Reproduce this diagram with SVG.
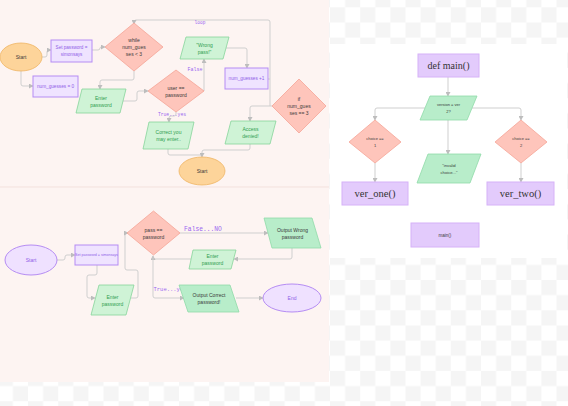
<svg xmlns="http://www.w3.org/2000/svg" width="568" height="406" viewBox="0 0 568 406">
<style>
.t{font-family:"Liberation Sans",Arial,sans-serif;text-anchor:middle;dominant-baseline:central}
.dark{fill:#3a3a3a}
.pur{fill:#8f5ee8}
.grn{fill:#2f9e50}
.lbl{font-family:"Liberation Mono","DejaVu Sans Mono",monospace;fill:#9a66f0;text-anchor:middle;dominant-baseline:central}
.serif{font-family:"Liberation Serif","Times New Roman",serif;text-anchor:middle;dominant-baseline:central;fill:#333}
.rectP{fill:#efe3ff;stroke:#b58cf3;stroke-width:1}
.rectP2{fill:#e3cbfc;stroke:#d6b2f8;stroke-width:1}
.dia{fill:#fec5bb;stroke:#f5a597;stroke-width:0.8}
.para{fill:#cff3d6;stroke:#86d49b;stroke-width:0.8}
.para2{fill:#b8edca;stroke:#8fdaa8;stroke-width:0.8}
.ellO{fill:#fdd49a;stroke:#efb565;stroke-width:0.8}
.ellP{fill:#efe1ff;stroke:#b58cf3;stroke-width:1}
.c{fill:none;stroke:#cfcfcf;stroke-width:1}
.ca{fill:none;stroke:#cfcfcf;stroke-width:1;marker-end:url(#ah)}
</style>
<defs>
<marker id="ah" markerWidth="5" markerHeight="5" refX="4" refY="2.5" orient="auto" markerUnits="userSpaceOnUse">
<path d="M0,0 L4.5,2.5 L0,5 z" fill="#bdbdbd"/>
</marker>
<pattern id="chk" x="330" y="7.3" width="30.2" height="30.3" patternUnits="userSpaceOnUse">
<rect width="30.2" height="30.3" fill="#ffffff"/>
<rect width="15.1" height="15.15" fill="#f5f5f5"/>
<rect x="15.1" y="15.15" width="15.1" height="15.15" fill="#f5f5f5"/>
</pattern>
</defs>
<rect width="568" height="406" fill="url(#chk)"/>
<rect x="0" y="0" width="329" height="382" fill="#fdf4f2"/>
<line x1="0" y1="187" x2="329" y2="187" stroke="#f3e1dd" stroke-width="1"/>
<rect x="330" y="44" width="237" height="214" fill="#ffffff"/>

<g id="connectors">
<path class="ca" d="M42,57 H45 Q47,57 47,55 V52 Q47,50 49,50 H51"/>
<path class="ca" d="M92,50 H98 Q100,50 100,48 Q100,47 102,47 H105"/>
<path class="ca" d="M21,71 V84 Q21,86 23,86 H33"/>
<path class="ca" d="M134,71 V78 Q134,80 132,80 H102 Q100,80 100,82 V89"/>
<path class="ca" d="M123,101 H135 Q137,101 137,99 V93 Q137,91 139,91 H148"/>
<path class="ca" d="M204,91 V59"/>
<path class="ca" d="M226,48 H245 Q247,48 247,50 V68"/>
<path class="c" d="M268,79 H270"/>
<path class="ca" d="M272,106 H270 V22 Q270,20 268,20 H136 Q134,20 134,22 V24"/>
<path class="ca" d="M270,106 H252 Q250,106 250,108 V121"/>
<path class="ca" d="M176,112 V114 Q176,116 174,116 H171 Q169,116 169,118 V122"/>
<path class="c" d="M168,149 V153 Q168,155 170,155 H202"/>
<path class="ca" d="M250,144 V148 Q250,150 248,150 H204 Q202,150 202,152 V157"/>

<path class="ca" d="M57,260 H63 Q65,260 65,258 V257 Q65,255 67,255 H75"/>
<path class="ca" d="M97,265 V273 Q97,275 95,275 H89 Q87,275 87,277 V296 Q87,298 89,298 H95"/>
<path class="ca" d="M131,298 H136 Q138,298 138,296 V272 Q138,270 136,270 H127 Q125,270 125,268 V235 Q125,233 127,233 H128"/>
<path class="ca" d="M180,233 H268"/>
<path class="ca" d="M292,248 V257 Q292,259 290,259 H234"/>
<path class="ca" d="M191,259 H155 Q153,259 153,257 V256"/>
<path class="ca" d="M153,257 V296 Q153,298 155,298 H184"/>
<path class="ca" d="M236,298 H263"/>

<path class="ca" d="M448,77 V96"/>
<path class="ca" d="M425,108 H377 Q375,108 375,110 V120"/>
<path class="ca" d="M472,108 H519 Q521,108 521,110 V120"/>
<path class="ca" d="M448,120 V154"/>
<path class="ca" d="M375,163 V182"/>
<path class="ca" d="M521,163 V182"/>

<text class="lbl" x="200" y="22" font-size="4.5">loop</text>
<text class="lbl" x="195" y="69.5" font-size="5">False</text>
<text class="lbl" x="172" y="114" font-size="4.7">True...yes</text>
<text class="lbl" x="203" y="229" font-size="6.3">False...NO</text>
<text class="lbl" x="170" y="289" font-size="5.5">True...yes</text>
</g>

<g id="start1"><ellipse class="ellO" cx="21" cy="57" rx="21" ry="14"/><text class="t dark" x="21" y="57" font-size="5">Start</text></g>
<g id="setpw1"><rect class="rectP" x="51" y="40" width="41" height="22"/><text class="t pur" x="71.5" y="47.5" font-size="4.6">Set password =</text><text class="t pur" x="71.5" y="54.5" font-size="4.6">simonsays</text></g>
<g id="numg0"><rect class="rectP" x="33" y="76" width="45" height="21"/><text class="t pur" x="55.5" y="86.5" font-size="4.7">num_guesses = 0</text></g>
<g id="while"><polygon class="dia" points="134,23 163,47 134,71 105,47"/><text class="t dark" x="134" y="40" font-size="5">while</text><text class="t dark" x="134" y="47" font-size="5">num_gues</text><text class="t dark" x="134" y="54" font-size="5">ses &lt; 3</text></g>
<g id="enter1"><polygon class="para" points="82,89 126,89 120,113 76,113"/><text class="t grn" x="101" y="97.5" font-size="5">Enter</text><text class="t grn" x="101" y="104.5" font-size="5">password</text></g>
<g id="userpw"><polygon class="dia" points="176,70 204,91 176,112 148,91"/><text class="t dark" x="176" y="87.5" font-size="5">user ==</text><text class="t dark" x="176" y="94.5" font-size="5">password</text></g>
<g id="wrong"><polygon class="para" points="186,37 229,37 223,59 180,59"/><text class="t grn" x="204.5" y="44.5" font-size="5">"Wrong</text><text class="t grn" x="204.5" y="51.5" font-size="5">pass!"</text></g>
<g id="numg1"><rect class="rectP" x="225" y="68" width="43" height="21"/><text class="t pur" x="246.5" y="78.5" font-size="4.7">num_guesses +1</text></g>
<g id="ifnum"><polygon class="dia" points="299,79 326,106 299,133 272,106"/><text class="t dark" x="299" y="99" font-size="5">if</text><text class="t dark" x="299" y="106" font-size="5">num_gues</text><text class="t dark" x="299" y="113" font-size="5">ses == 3</text></g>
<g id="access"><polygon class="para" points="231,121 276,121 270,144 225,144"/><text class="t grn" x="250.5" y="129" font-size="5">Access</text><text class="t grn" x="250.5" y="136" font-size="5">denied!</text></g>
<g id="correct"><polygon class="para" points="149,122 194,122 188,149 143,149"/><text class="t grn" x="168.5" y="131.5" font-size="5">Correct you</text><text class="t grn" x="168.5" y="138.5" font-size="5">may enter..</text></g>
<g id="start2"><ellipse class="ellO" cx="202" cy="171" rx="23" ry="14"/><text class="t dark" x="202" y="171" font-size="5">Start</text></g>

<g id="start3"><ellipse class="ellP" cx="31" cy="260" rx="26" ry="15"/><text class="t pur" x="31" y="260" font-size="5">Start</text></g>
<g id="setpw2"><rect class="rectP" x="75" y="245" width="43" height="20"/><text class="t pur" x="96.5" y="255" font-size="3.6">Set password = simonsays</text></g>
<g id="enter2"><polygon class="para" points="99,285 134,285 126,315 91,315"/><text class="t grn" x="112.5" y="296.5" font-size="5">Enter</text><text class="t grn" x="112.5" y="303.5" font-size="5">password</text></g>
<g id="passpw"><polygon class="dia" points="153.5,211 180,233 153.5,255 127,233"/><text class="t dark" x="153.5" y="229.5" font-size="5">pass ==</text><text class="t dark" x="153.5" y="236.5" font-size="5">password</text></g>
<g id="wrongout"><polygon class="para2" points="264,218 312,218 321,248 272,248"/><text class="t dark" x="292.5" y="229.5" font-size="5">Output Wrong</text><text class="t dark" x="292.5" y="236.5" font-size="5">password</text></g>
<g id="enter3"><polygon class="para" points="193,250 236,250 231,269 189,269"/><text class="t grn" x="212.5" y="256" font-size="5">Enter</text><text class="t grn" x="212.5" y="263" font-size="5">password</text></g>
<g id="correctout"><polygon class="para2" points="179,285 230,285 239,312 188,312"/><text class="t dark" x="209" y="295" font-size="5">Output Correct</text><text class="t dark" x="209" y="302" font-size="5">password!</text></g>
<g id="end"><ellipse class="ellP" cx="292" cy="298" rx="29" ry="14"/><text class="t pur" x="292" y="298" font-size="5">End</text></g>

<g id="defmain"><rect class="rectP2" x="418" y="54" width="61" height="23"/><text class="serif" x="448.5" y="65.5" font-size="10">def main()</text></g>
<g id="version"><polygon class="para2" points="430,96 477,96 467,120 420,120"/><text class="t dark" x="448.5" y="104.5" font-size="4">version = ver</text><text class="t dark" x="448.5" y="111.5" font-size="4">2?</text></g>
<g id="choice1"><polygon class="dia" points="375,120 401,142 375,163 349,142"/><text class="t dark" x="375" y="138.5" font-size="4">choice ==</text><text class="t dark" x="375" y="145.5" font-size="4">1</text></g>
<g id="choice2"><polygon class="dia" points="521,120 547,142 521,163 495,142"/><text class="t dark" x="521" y="138.5" font-size="4">choice ==</text><text class="t dark" x="521" y="145.5" font-size="4">2</text></g>
<g id="invalid"><polygon class="para2" points="428,154 481,154 470,183 417,183"/><text class="t dark" x="449" y="165" font-size="4.2">"invalid</text><text class="t dark" x="449" y="172" font-size="4.2">choice..."</text></g>
<g id="verone"><rect class="rectP2" x="342" y="182" width="66" height="23"/><text class="serif" x="375" y="193.5" font-size="10.5">ver_one()</text></g>
<g id="vertwo"><rect class="rectP2" x="487" y="182" width="67" height="23"/><text class="serif" x="520.5" y="193.5" font-size="10.5">ver_two()</text></g>
<g id="main"><rect class="rectP2" x="411" y="223" width="68" height="24"/><text class="t dark" x="445" y="235" font-size="4.5">main()</text></g>
</svg>
